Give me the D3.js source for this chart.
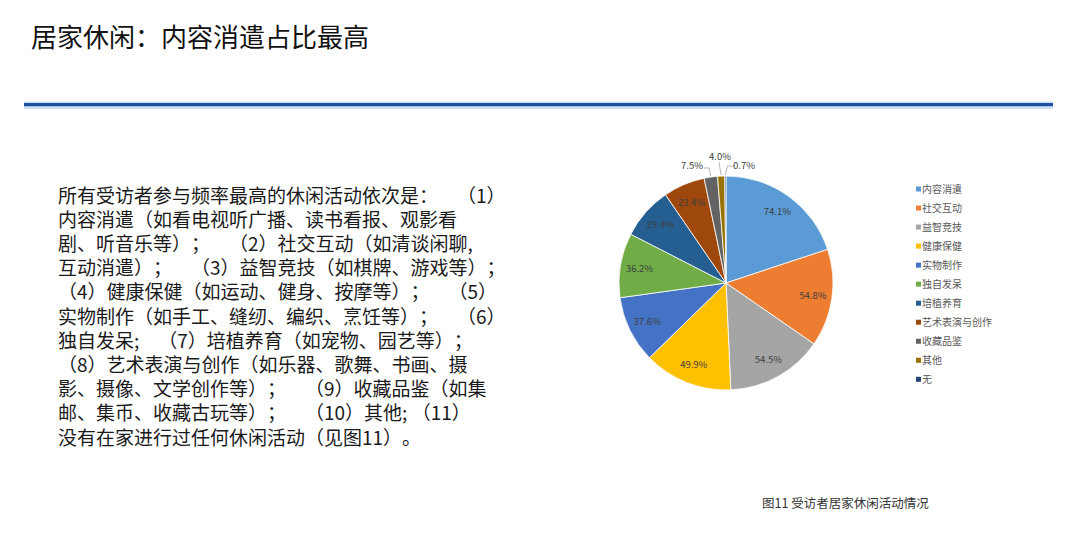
<!DOCTYPE html>
<meta charset="utf-8">
<style>
    body { margin: 0; background: #fff; }
    svg { display: block; font-family: "Noto Sans CJK SC", "Noto Sans", sans-serif; text-spacing-trim: space-all; }
    .para text { font-size: 19px; fill: #1a1a1a; white-space: pre; }
    .legend text { font-size: 10px; fill: #595959; }
    .lbl { font-size: 9.5px; fill: #404040; }
</style>
<body>
<svg id="chart" width="1080" height="535"></svg>

<script src="https://cdn.jsdelivr.net/npm/d3@7/dist/d3.min.js"></script>
<script>

    // activities and share of respondents (%)
    var categories = ["内容消遣", "社交互动", "益智竞技", "健康保健", "实物制作", "独自发呆",
        "培植养育", "艺术表演与创作", "收藏品鉴", "其他", "无"];
    var values = [74.1, 54.8, 54.5, 49.9, 37.6, 36.2, 29.4, 23.4, 7.5, 4.0, 0.7];
    var colors = ["#5b9bd5", "#ed7d31", "#a5a5a5", "#ffc000", "#4472c4", "#70ad47",
        "#255e91", "#9e480e", "#636363", "#997300", "#264478"];

    var title = "居家休闲：内容消遣占比最高";
    var caption = "图11 受访者居家休闲活动情况";
    var paragraph = [
        "所有受访者参与频率最高的休闲活动依次是：\u3000（1）",
        "内容消遣（如看电视听广播、读书看报、观影看",
        "剧、听音乐等）；\u3000（2）社交互动（如清谈闲聊,",
        "互动消遣）；\u3000（3）益智竞技（如棋牌、游戏等）；",
        "（4）健康保健（如运动、健身、按摩等）；\u3000（5）",
        "实物制作（如手工、缝纫、编织、烹饪等）；\u3000（6）",
        "独自发呆;\u3000（7）培植养育（如宠物、园艺等）；",
        "（8）艺术表演与创作（如乐器、歌舞、书画、摄",
        "影、摄像、文学创作等）；\u3000（9）收藏品鉴（如集",
        "邮、集币、收藏古玩等）；\u3000（10）其他; （11）",
        "没有在家进行过任何休闲活动（见图11）。"
    ];

    var data = categories.map(function (c, i) { return { name: c, value: values[i] }; });

    var svg = d3.select("#chart");

    // header
    svg.append("text")
        .attr("x", 31).attr("y", 47)
        .style("font-size", "26px").style("fill", "#111")
        .text(title);

    svg.append("rect").attr("x", 24).attr("y", 101.5).attr("width", 1029).attr("height", 1.5).attr("fill", "#bfe6f7");
    svg.append("rect").attr("x", 24).attr("y", 103).attr("width", 1029).attr("height", 3.5).attr("fill", "#1d4f9c");
    svg.append("rect").attr("x", 24).attr("y", 106.5).attr("width", 1029).attr("height", 2.5).attr("fill", "#c9e2f6");

    // left paragraph
    svg.append("g").attr("class", "para")
        .selectAll("text")
        .data(paragraph)
        .enter().append("text")
        .attr("x", 58)
        .attr("y", function (d, i) { return 202.5 + i * 24.2; })
        .text(function (d) { return d; });

    // pie
    var cx = 726, cy = 283, radius = 107;
    var g = svg.append("g").attr("transform", "translate(" + cx + "," + cy + ")");

    var pie = d3.pie().sort(null).value(function (d) { return d.value; });
    var arc = d3.arc().innerRadius(0).outerRadius(radius);
    var labelArc = d3.arc().innerRadius(radius * 0.82).outerRadius(radius * 0.82);
    var arcs = pie(data);

    g.selectAll("path")
        .data(arcs)
        .enter().append("path")
        .attr("d", arc)
        .attr("fill", function (d, i) { return colors[i]; })
        .attr("stroke", "#fff")
        .attr("stroke-width", 0.8);

    // inside labels for the big slices
    g.selectAll("text.in")
        .data(arcs.filter(function (d) { return d.data.value > 10; }))
        .enter().append("text")
        .attr("class", "lbl in")
        .attr("transform", function (d) { return "translate(" + labelArc.centroid(d) + ")"; })
        .attr("text-anchor", "middle")
        .attr("dy", "0.35em")
        .text(function (d) { return d.data.value.toFixed(1) + "%"; });

    // small slices get labels above the pie with leader lines
    var small = arcs.filter(function (d) { return d.data.value <= 10; });
    var spots = [[-34, -117], [-6, -126], [18, -117]];
    small.forEach(function (d, k) {
        var mid = (d.startAngle + d.endAngle) / 2;
        var ex = Math.sin(mid) * (radius + 1), ey = -Math.cos(mid) * (radius + 1);
        var lx = spots[k][0], ly = spots[k][1];
        var pts;
        if (k === 0) pts = [[lx + 12, ly + 2], [ex - 1.5, ly + 2], [ex, ey]];
        else if (k === 1) pts = [[lx - 1, ly + 5], [ex, ey]];
        else pts = [[lx - 10, ly], [ex + 2, ly], [ex, ey]];
        g.append("path")
            .attr("d", d3.line()(pts))
            .attr("fill", "none")
            .attr("stroke", "#a6a6a6")
            .attr("stroke-width", 0.8);
        g.append("text")
            .attr("class", "lbl")
            .attr("x", lx).attr("y", ly)
            .attr("text-anchor", "middle")
            .attr("dy", "0.35em")
            .text(d.data.value.toFixed(1) + "%");
    });

    // legend
    var legend = svg.append("g").attr("class", "legend")
        .selectAll("g")
        .data(categories)
        .enter().append("g")
        .attr("transform", function (d, i) { return "translate(916," + (189 + i * 19.03) + ")"; });

    legend.append("rect")
        .attr("x", 0).attr("y", -2.5)
        .attr("width", 5).attr("height", 5)
        .attr("fill", function (d, i) { return colors[i]; });

    legend.append("text")
        .attr("x", 6).attr("dy", "0.35em")
        .text(function (d) { return d; });

    // caption
    svg.append("text")
        .attr("x", 762).attr("y", 508)
        .style("font-size", "12.5px").style("fill", "#333")
        .text(caption);

</script>
</body>
